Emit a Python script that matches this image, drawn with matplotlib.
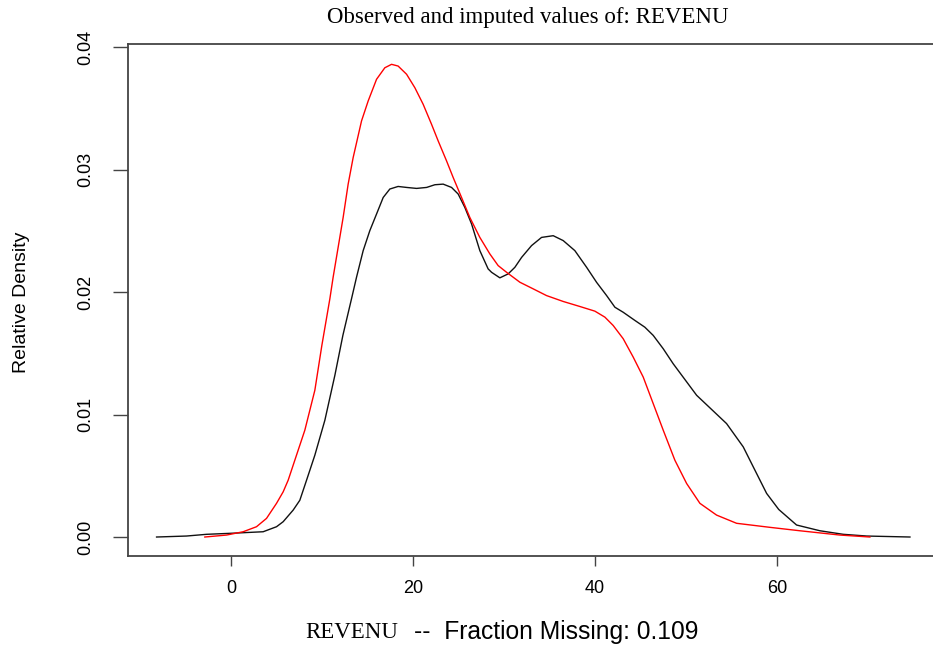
import matplotlib
matplotlib.use("Agg")
import matplotlib.pyplot as plt

# observed (black) density curve
obs_x = [-8.16, -4.87, -2.67, -0.11, 3.55, 5.02, 5.75, 6.85, 7.58, 8.32, 9.23,
         10.33, 11.43, 12.31, 13.26, 13.81, 14.54, 15.27, 16.01, 16.74, 17.47,
         18.38, 19.31, 20.41, 21.51, 22.42, 23.33, 24.25, 24.98, 25.71, 26.45,
         27.36, 28.27, 28.65, 29.56, 30.47, 31.21, 31.95, 33.04, 34.14, 35.42,
         36.52, 37.8, 39.09, 40.19, 41.29, 42.2, 43.11, 44.4, 45.49, 46.41,
         47.51, 48.6, 51.18, 54.47, 56.3, 57.4, 58.87, 60.2, 62.16, 64.73,
         67.29, 69.86, 74.62]
obs_y = [0.0, 0.00008, 0.00022, 0.0003, 0.00043, 0.00084, 0.00125, 0.0022,
         0.0030, 0.00464, 0.00668, 0.00953, 0.0132, 0.01646, 0.01945, 0.02121,
         0.02338, 0.02501, 0.02637, 0.02772, 0.02841, 0.02862, 0.02854, 0.02846,
         0.02854, 0.02876, 0.02881, 0.02854, 0.0280, 0.02691, 0.02556, 0.02338,
         0.02189, 0.02161, 0.02116, 0.02148, 0.02202, 0.02283, 0.02379, 0.02446,
         0.0246, 0.0242, 0.02338, 0.02202, 0.02079, 0.01971, 0.01876, 0.01835,
         0.01768, 0.01713, 0.01646, 0.01537, 0.01415, 0.01157, 0.00926, 0.00736,
         0.00573, 0.00356, 0.00225, 0.00098, 0.00051, 0.00022, 0.00008, 0.0]

# imputed (red) density curve
imp_x = [-2.86, -0.47, 1.35, 2.82, 3.92, 5.02, 5.75, 6.3, 7.03, 8.13, 9.23,
         10.0, 10.88, 11.24, 11.79, 12.34, 12.89, 13.44, 14.36, 15.09, 16.01,
         16.92, 17.66, 18.38, 19.31, 20.22, 21.13, 22.05, 22.78, 23.7, 24.43,
         25.35, 26.26, 27.36, 28.46, 29.37, 30.3, 31.76, 33.22, 34.69, 36.52,
         38.35, 40.0, 41.1, 42.01, 43.11, 44.21, 45.31, 46.41, 47.51, 48.79,
         50.08, 51.54, 53.37, 55.57, 59.23, 62.53, 66.92, 70.22]
imp_y = [0.0, 0.00016, 0.00043, 0.00084, 0.00152, 0.00275, 0.00369, 0.00464,
         0.00627, 0.00872, 0.01198, 0.01564, 0.01945, 0.02121, 0.02365, 0.02609,
         0.02881, 0.03098, 0.03397, 0.0356, 0.03737, 0.03831, 0.03859, 0.03845,
         0.03778, 0.03668, 0.03533, 0.0337, 0.03234, 0.03071, 0.02935, 0.02772,
         0.02609, 0.02446, 0.02311, 0.02216, 0.02161, 0.0208, 0.02026, 0.01971,
         0.01923, 0.01882, 0.01844, 0.01795, 0.01727, 0.01619, 0.01469, 0.01306,
         0.01089, 0.00872, 0.00627, 0.00437, 0.00275, 0.00179, 0.00112, 0.00079,
         0.00051, 0.00016, 0.0]

x_ticks = [0, 20, 40, 60]
y_ticks = [0.00, 0.01, 0.02, 0.03, 0.04]
y_labels = ["0.00", "0.01", "0.02", "0.03", "0.04"]

fig = plt.figure(figsize=(9.33, 6.5), dpi=100)
ax = fig.add_axes([128 / 933, 94 / 650, 820 / 933, 512 / 650])

ax.plot(obs_x, obs_y, color="#111111", lw=1.0)
ax.plot(imp_x, imp_y, color="red", lw=1.0)

ax.set_xlim(-11.3, 78.8)
ax.set_ylim(-0.00155, 0.04025)

for s in ax.spines.values():
    s.set_color("#444444")
    s.set_linewidth(1.3)
ax.spines["right"].set_visible(False)  # box edge falls outside the crop

ax.set_xticks(x_ticks)
ax.set_xticklabels([str(t) for t in x_ticks], fontfamily="Liberation Sans", fontsize=13)
ax.set_yticks(y_ticks)
ax.set_yticklabels(y_labels, fontfamily="Liberation Sans", fontsize=13,
                   rotation=90, va="center")
ax.tick_params(axis="x", length=7.2, width=1.0, color="#444444", pad=10)
ax.tick_params(axis="y", length=10.5, width=1.0, color="#444444", pad=14)

fig.text(527.5 / 933, 1 - 18 / 650, "Observed and imputed values of: REVENU",
         ha="center", va="center", fontfamily="Liberation Serif", fontsize=16.5)

fig.text(22 / 933, 1 - 302 / 650, "Relative Density", rotation=90,
         ha="center", va="center", fontfamily="Liberation Sans", fontsize=14)

fig.text(305 / 933, 1 - 632 / 650, "REVENU", ha="left", va="center",
         fontfamily="Liberation Serif", fontsize=16.5)
fig.text(414 / 933, 1 - 632 / 650, "--  Fraction Missing: 0.109", ha="left",
         va="center", fontfamily="Liberation Sans", fontsize=17.7)

fig.savefig("out.png", dpi=100)
